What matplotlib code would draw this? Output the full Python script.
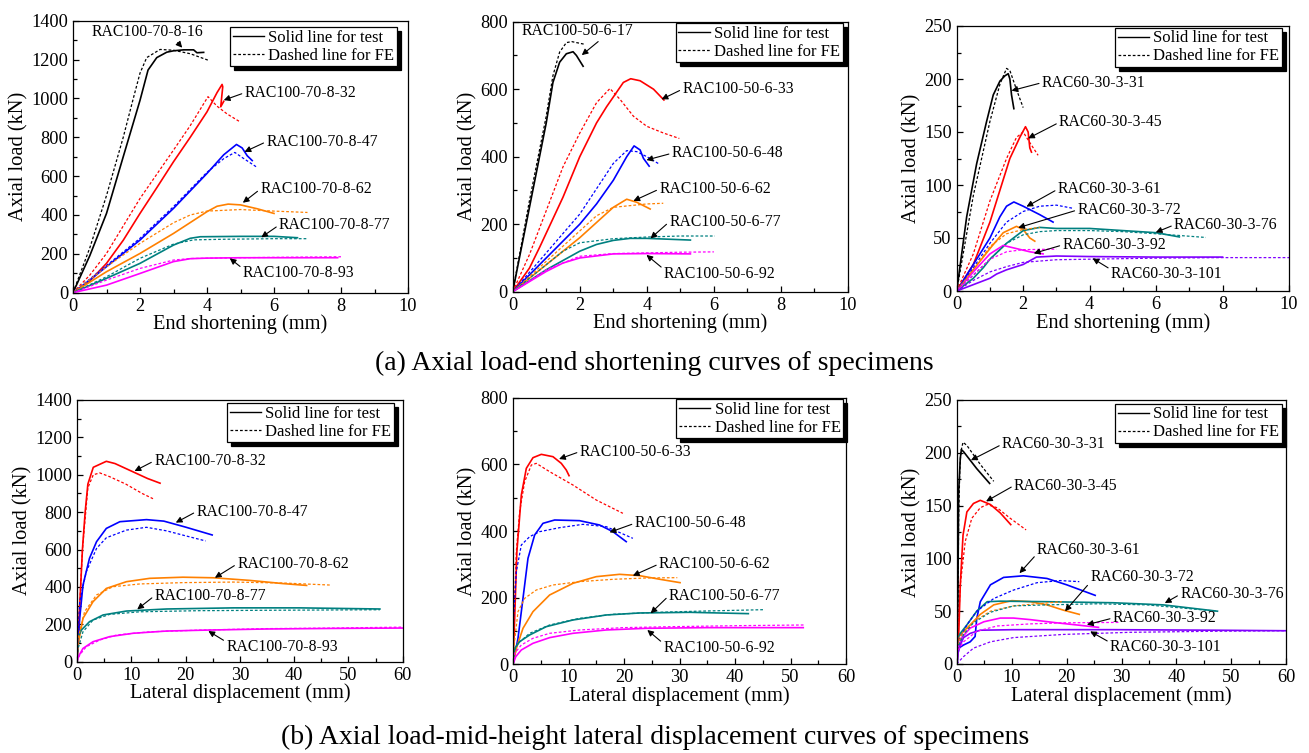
import matplotlib
matplotlib.use("Agg")
import matplotlib.pyplot as plt
from matplotlib.lines import Line2D
from matplotlib.ticker import MultipleLocator

plt.rcParams['font.family'] = ['Liberation Serif', 'DejaVu Serif']
plt.rcParams['mathtext.fontset'] = 'stix'

# ---------------------------------------------------------------- data
# (a) axial load - end shortening
A1_TEST = {
    "RAC100-70-8-16": ([0, 0.5, 1.0, 1.5, 2.0, 2.24, 2.5, 2.8, 3.0, 3.3, 3.6, 3.7, 3.9],
                       [0, 190, 408, 700, 990, 1146, 1210, 1238, 1245, 1250, 1250, 1235, 1237]),
    "RAC100-70-8-32": ([0, 0.5, 1, 1.5, 2, 2.5, 3, 3.5, 4, 4.3, 4.45, 4.47, 4.41, 4.5],
                       [0, 60, 151, 270, 408, 540, 674, 800, 931, 1030, 1072, 1060, 957, 985]),
    "RAC100-70-8-47": ([0, 0.5, 1, 2, 3, 4, 4.5, 4.88, 5.05, 5.2, 5.35],
                       [0, 65, 134, 271, 434, 614, 710, 763, 745, 705, 680]),
    "RAC100-70-8-62": ([0, 1, 2, 3, 4, 4.3, 4.63, 5.0, 5.5, 6.0],
                       [0, 108, 202, 305, 417, 445, 456, 452, 432, 408]),
    "RAC100-70-8-77": ([0, 1, 2, 3, 3.5, 3.8, 5, 6, 6.7],
                       [0, 74, 151, 245, 280, 288, 290, 290, 283]),
    "RAC100-70-8-93": ([0, 1, 2, 3, 3.5, 4, 5, 6, 7, 7.9],
                       [0, 39, 99, 160, 175, 178, 180, 180, 180, 180]),
}
A1_FE = {
    "RAC100-70-8-16": ([0, 0.5, 1, 1.5, 1.8, 2.0, 2.2, 2.6, 3.0, 3.5, 4.03],
                       [0, 230, 500, 800, 1000, 1130, 1210, 1252, 1248, 1230, 1197]),
    "RAC100-70-8-32": ([0, 0.5, 1, 2, 3, 3.5, 4.03, 4.3, 4.6, 4.98],
                       [0, 90, 202, 485, 734, 860, 1009, 960, 920, 880]),
    "RAC100-70-8-47": ([0, 1, 2, 3, 4, 4.5, 4.83, 5.1, 5.47],
                       [0, 140, 280, 443, 620, 690, 722, 690, 648]),
    "RAC100-70-8-62": ([0, 1, 2, 3, 3.5, 4, 5, 6, 7],
                       [0, 134, 254, 360, 400, 420, 428, 420, 413]),
    "RAC100-70-8-77": ([0, 1, 2, 3, 3.6, 4.5, 6, 7],
                       [0, 82, 177, 250, 272, 275, 278, 278]),
    "RAC100-70-8-93": ([0, 1, 2, 3, 3.5, 5, 6, 8],
                       [0, 65, 125, 168, 176, 180, 182, 185]),
}

A2_TEST = {
    "RAC100-50-6-17": ([0, 0.5, 1, 1.2, 1.4, 1.6, 1.8, 1.9, 2.1],
                       [0, 250, 500, 620, 680, 705, 711, 700, 668]),
    "RAC100-50-6-33": ([0, 0.5, 0.81, 1.5, 2, 2.5, 2.8, 3.3, 3.52, 3.8, 4.2, 4.51],
                       [0, 70, 133, 280, 400, 500, 548, 620, 631, 625, 600, 568]),
    "RAC100-50-6-48": ([0, 1, 2, 2.5, 3, 3.4, 3.62, 3.8, 3.9, 4.07],
                       [0, 100, 200, 260, 330, 400, 432, 420, 395, 372]),
    "RAC100-50-6-62": ([0, 1, 2, 2.5, 3, 3.4, 3.7, 4.1],
                       [0, 80, 160, 205, 250, 274, 265, 245]),
    "RAC100-50-6-77": ([0, 1, 2, 2.5, 3, 3.5, 4, 5.3],
                       [0, 65, 120, 140, 152, 158, 158, 153]),
    "RAC100-50-6-92": ([0, 1, 1.5, 2, 3, 4, 5.3],
                       [0, 60, 85, 100, 112, 113, 112]),
}
A2_FE = {
    "RAC100-50-6-17": ([0, 0.5, 1, 1.2, 1.4, 1.6, 1.76, 2.15],
                       [0, 270, 520, 640, 710, 738, 741, 733]),
    "RAC100-50-6-33": ([0, 0.5, 1, 1.5, 2, 2.5, 2.9, 3.2, 3.6, 4.0, 4.5, 4.97],
                       [0, 110, 240, 370, 470, 560, 602, 570, 520, 490, 470, 454]),
    "RAC100-50-6-48": ([0, 1, 2, 2.6, 3, 3.4, 3.7, 4.0, 4.34],
                       [0, 115, 230, 320, 380, 418, 415, 400, 380]),
    "RAC100-50-6-62": ([0, 1, 2, 2.5, 3, 4, 4.49],
                       [0, 90, 180, 225, 250, 260, 262]),
    "RAC100-50-6-77": ([0, 1, 1.5, 2, 3, 4, 5, 6.03],
                       [0, 80, 120, 145, 157, 162, 165, 165]),
    "RAC100-50-6-92": ([0, 1, 2, 3, 4, 5, 6],
                       [0, 65, 105, 113, 115, 117, 118]),
}

A3_TEST = {
    "RAC60-30-3-31": ([0, 0.3, 0.6, 0.9, 1.1, 1.3, 1.45, 1.55, 1.6, 1.65, 1.72],
                      [0, 70, 120, 160, 185, 198, 203, 205, 200, 185, 172]),
    "RAC60-30-3-45": ([0, 0.5, 1, 1.3, 1.6, 1.9, 2.07, 2.15, 2.2, 2.25],
                      [0, 25, 65, 95, 125, 145, 155, 150, 135, 131]),
    "RAC60-30-3-61": ([0, 0.5, 1, 1.3, 1.5, 1.72, 2, 2.5, 2.9],
                      [0, 25, 50, 70, 80, 84, 80, 72, 65]),
    "RAC60-30-3-72": ([0, 0.5, 1, 1.4, 1.8, 2.0, 2.2, 2.35],
                      [0, 20, 40, 55, 61, 58, 50, 47]),
    "RAC60-30-3-76": ([0, 0.5, 0.8, 1.0, 1.5, 2, 2.5, 3, 4, 5, 6, 6.7],
                      [0, 12, 22, 30, 45, 57, 60, 59, 59, 57, 55, 51]),
    "RAC60-30-3-92": ([0, 0.5, 1, 1.4, 1.8, 2.2, 2.6],
                      [0, 18, 35, 43, 40, 37, 35]),
    "RAC60-30-3-101": ([0, 0.5, 1, 1.2, 1.5, 2, 2.4, 3, 4, 6, 8],
                       [0, 6, 12, 16, 20, 25, 32, 33, 32.5, 32, 32]),
}
A3_FE = {
    "RAC60-30-3-31": ([0, 0.5, 1.0, 1.3, 1.5, 1.6, 1.8, 2.0],
                      [0, 90, 160, 195, 210, 208, 190, 173]),
    "RAC60-30-3-45": ([0, 0.5, 1, 1.5, 1.8, 2.0, 2.2, 2.45],
                      [0, 35, 85, 125, 145, 150, 140, 128]),
    "RAC60-30-3-61": ([0, 0.5, 1, 1.5, 2, 2.5, 3, 3.5],
                      [0, 22, 45, 65, 75, 80, 81, 78]),
    "RAC60-30-3-72": ([0, 0.5, 1, 1.5, 2, 2.5],
                      [0, 20, 42, 54, 58, 60]),
    "RAC60-30-3-76": ([0, 0.5, 1, 1.5, 2, 2.5, 3, 4, 5, 6, 7.5],
                      [0, 15, 30, 45, 53, 56, 57, 57, 56, 54, 50.5]),
    "RAC60-30-3-92": ([0, 0.5, 1, 1.5, 2, 3],
                      [0, 15, 30, 37, 39, 39.5]),
    "RAC60-30-3-101": ([0, 0.5, 1, 1.5, 2, 3, 4, 6, 8, 10],
                       [0, 10, 18, 23, 27, 29.5, 30, 31, 31.5, 31.5]),
}

# (b) axial load - mid-height lateral displacement
B1_TEST = {
    "RAC100-70-8-32": ([0, 0.5, 1, 1.5, 2, 3, 5.4, 7, 10, 13, 15.3],
                       [0, 300, 600, 800, 950, 1040, 1072, 1060, 1020, 980, 955]),
    "RAC100-70-8-47": ([0, 0.5, 1.1, 2.3, 3.6, 5.4, 7.9, 12.8, 16, 20, 24.9],
                       [0, 232, 410, 553, 642, 713, 749, 760, 752, 720, 678]),
    "RAC100-70-8-62": ([0, 0.2, 1.1, 2.95, 5.4, 9.1, 13.4, 19.5, 25.1, 31.8, 37.9, 42.3],
                       [0, 89, 232, 321, 392, 428, 446, 452, 449, 435, 418, 408]),
    "RAC100-70-8-77": ([0, 0.06, 0.8, 2.3, 4.8, 9.1, 16.5, 28.8, 41, 55.8],
                       [0, 125, 169, 214, 250, 271, 282, 288, 288, 282]),
    "RAC100-70-8-93": ([0, 0.25, 1.1, 2.95, 6, 10.3, 16.5, 23.8, 34.9, 47.2, 60],
                       [0, 27, 71, 107, 134, 152, 164, 169, 175, 178, 180]),
}
B1_FE = {
    "RAC100-70-8-32": ([0, 0.5, 1, 2, 3, 4.2, 6, 9, 12, 14],
                       [0, 300, 600, 930, 1000, 1010, 990, 950, 900, 872]),
    "RAC100-70-8-47": ([0, 0.5, 1.7, 3.6, 5.4, 9.1, 12.8, 16.5, 20.2, 23.7],
                       [0, 321, 481, 606, 663, 704, 719, 700, 672, 646]),
    "RAC100-70-8-62": ([0, 0.2, 1.4, 3.6, 6.6, 11.6, 19.5, 28.8, 37.9, 46.7],
                       [0, 125, 268, 357, 401, 416, 423, 426, 421, 410]),
    "RAC100-70-8-77": ([0, 0.2, 1.1, 2.95, 6, 11.6, 22.6, 34.9, 55.8],
                       [0, 71, 160, 223, 253, 267, 273, 275, 278]),
    "RAC100-70-8-93": ([0, 0.5, 1.7, 4.2, 7.3, 13.4, 22.6, 34.9, 47.2, 60],
                       [0, 36, 80, 116, 143, 160, 169, 177, 180, 185]),
}

B2_TEST = {
    "RAC100-50-6-33": ([0, 0.3, 0.7, 1.5, 2.4, 3.6, 5.1, 7.2, 8.7, 9.6, 10.1],
                       [0, 138, 338, 508, 588, 620, 630, 623, 603, 583, 566]),
    "RAC100-50-6-48": ([0, 0.9, 1.8, 2.7, 3.9, 5.4, 7.5, 12, 15.6, 18, 20.4],
                       [0, 78, 198, 318, 388, 423, 433, 431, 418, 398, 368]),
    "RAC100-50-6-62": ([0, 0.6, 1.8, 3.6, 6.6, 10.8, 15, 19.2, 22.8, 26.5, 30.1],
                       [0, 48, 108, 158, 208, 243, 263, 270, 266, 255, 245]),
    "RAC100-50-6-77": ([0, 0.3, 1.2, 3, 6, 10.8, 16.8, 22.8, 31.9, 42.4],
                       [0, 48, 68, 88, 113, 133, 148, 154, 156, 152]),
    "RAC100-50-6-92": ([0, 0.5, 1.5, 3.6, 6.6, 10.8, 16.8, 24, 34.9, 52.3],
                       [0, 23, 43, 63, 80, 93, 103, 108, 110, 110]),
}
B2_FE = {
    "RAC100-50-6-33": ([0, 0.2, 0.6, 1.2, 2.1, 3.3, 4.2, 6.6, 10.8, 15, 19.8],
                       [0, 138, 338, 458, 548, 598, 603, 578, 538, 493, 453]),
    "RAC100-50-6-48": ([0, 0.1, 0.6, 1.5, 3, 4.8, 8.4, 12.6, 16.8, 21.6],
                       [0, 138, 278, 358, 383, 398, 410, 420, 413, 378]),
    "RAC100-50-6-62": ([0, 0.2, 0.9, 2.1, 4.2, 7.2, 12, 18, 24, 29.6],
                       [0, 58, 158, 198, 223, 238, 248, 255, 259, 260]),
    "RAC100-50-6-77": ([0, 0.1, 0.9, 3, 6.6, 12, 18, 25.9, 34.9, 45.4],
                       [0, 38, 63, 93, 118, 138, 150, 156, 160, 164]),
    "RAC100-50-6-92": ([0, 0.3, 1.5, 3.6, 6.6, 12, 19.8, 28.9, 40.9, 52.6],
                       [0, 33, 58, 78, 93, 103, 110, 113, 116, 118]),
}

B3_TEST = {
    "RAC60-30-3-31": ([0, 0.12, 0.18, 0.3, 0.5, 0.6, 0.8, 1.2, 3.6, 5.95],
                      [0, 37, 75, 163, 184, 195, 203, 201, 185, 171]),
    "RAC60-30-3-45": ([0, 0.3, 0.6, 1.1, 1.8, 3, 4.25, 6.1, 7.9, 9.8],
                      [0, 25, 75, 122, 144, 152, 155, 151, 143, 132]),
    "RAC60-30-3-61": ([0, 0.3, 1.2, 2.4, 3.3, 3.6, 4.25, 6.1, 8.5, 12.1, 16.4, 20, 25.2],
                      [0, 15, 18, 21, 26, 43, 59, 75, 82, 83.5, 81, 75, 65]),
    "RAC60-30-3-72": ([0, 0.18, 1.2, 2.4, 4.25, 6.7, 10, 13.4, 16.4, 19.4, 22.3],
                      [0, 25, 31, 37, 47, 56, 60, 59, 56, 51, 47]),
    "RAC60-30-3-76": ([0, 0.12, 0.6, 1.8, 3.6, 5.5, 7.9, 16.4, 28.5, 37.6, 47.5],
                      [0, 25, 29, 37, 50, 59, 59.5, 59, 58, 56, 50]),
    "RAC60-30-3-92": ([0, 0.18, 0.9, 2.4, 4.9, 7.9, 10.3, 13.4, 18.2, 22.5, 25.8],
                      [0, 15, 25, 34, 40, 43.5, 43.5, 42, 39, 36.6, 34.7]),
    "RAC60-30-3-101": ([0, 0.1, 0.6, 1.2, 2.4, 4.25, 10.3, 28.5, 46.8, 60],
                       [0, 9, 18, 25, 29, 32, 32.5, 32.5, 32, 31.5]),
}
B3_FE = {
    "RAC60-30-3-31": ([0, 0.18, 0.3, 0.5, 0.7, 1.1, 1.8, 4.25, 6.7],
                      [0, 59, 138, 182, 201, 210, 207, 189, 173]),
    "RAC60-30-3-45": ([0, 0.1, 0.6, 1.5, 2.7, 4.25, 5.5, 7.3, 9.7, 12.6],
                      [0, 18, 75, 116, 138, 148, 151, 148, 138, 127]),
    "RAC60-30-3-61": ([0, 0.1, 0.6, 1.8, 3.6, 6.7, 10.3, 14.6, 18.8, 22.3],
                      [0, 15, 25, 37, 50, 62, 70, 77, 79, 78]),
    "RAC60-30-3-72": ([0, 0.1, 0.9, 3, 6.1, 10.3, 14.6, 19.1],
                      [0, 18, 28, 40, 50, 55, 57, 59]),
    "RAC60-30-3-76": ([0, 0.1, 1.2, 3, 6.1, 10.3, 16.4, 25.5, 34.6, 47.5],
                      [0, 15, 28, 39, 49, 55, 56, 57, 56, 50]),
    "RAC60-30-3-92": ([0, 0.1, 1.2, 3.6, 7.3, 13.4, 19.4, 29.7],
                      [0, 12, 21, 31, 36, 38, 39, 39.4]),
    "RAC60-30-3-101": ([0, 0.1, 1.2, 3, 6.1, 10.3, 19.4, 31.6, 46.8, 60],
                       [0, 1, 7, 15, 21, 25, 28, 30, 31, 31.5]),
}

XLABEL_A = "End shortening (mm)"
XLABEL_B = "Lateral displacement (mm)"
YLABEL = "Axial load (kN)"
LEGEND_LABELS = ["Solid line for test", "Dashed line for FE"]
CAPTION_A = "(a) Axial load-end shortening curves of specimens"
CAPTION_B = "(b) Axial load-mid-height lateral displacement curves of specimens"

# ---------------------------------------------------------------- styles
COLORS = {"16": "black", "17": "black", "31": "black",
          "32": "#ff0000", "33": "#ff0000", "45": "#ff0000",
          "47": "#0000ff", "48": "#0000ff", "61": "#0000ff",
          "62": "#ff8000", "72": "#ff8000",
          "77": "#008080", "76": "#008080",
          "93": "#ff00ff", "92": "#ff00ff",
          "101": "#8000ff"}

W, H = 1309, 753
fig = plt.figure(figsize=(W / 100, H / 100), dpi=100)


def add_axes(l, r, t, b):
    return fig.add_axes([l / W, 1 - b / H, (r - l) / W, (b - t) / H])


# panel spec: (pixel box, data, xlim, ylim, xmaj, ymaj, xlabel, legend box px (right, top), annotations)
PANELS = [
    ((73, 408, 20.7, 292.7), A1_TEST, A1_FE, 10, 1400, 2, 200, XLABEL_A, (397, 27),
     [((3.26, 1261), (0.55, 1343), (0.75, 0.0)),
      ((4.5, 991), (5.12, 1029), (0, 0.5)),
      ((5.12, 725), (5.77, 777), (0, 0.5)),
      ((5.07, 463), (5.59, 533), (0, 0.5)),
      ((5.62, 285), (6.15, 348), (0, 0.5)),
      ((4.68, 177), (5.07, 99), (0, 0.8))]),
    ((512.7, 848, 21.7, 291.7), A2_TEST, A2_FE, 10, 800, 2, 200, XLABEL_A, (842.7, 23.3),
     [((2.06, 701), (0.25, 773), (0.72, 0.0)),
      ((4.44, 570), (5.06, 600), (0, 0.5)),
      ((3.99, 390), (4.74, 410), (0, 0.5)),
      ((3.6, 269), (4.37, 304), (0, 0.5)),
      ((4.11, 158), (4.67, 207), (0, 0.5)),
      ((3.99, 109), (4.51, 52), (0, 0.8))]),
    ((956.7, 1289, 26, 291), A3_TEST, A3_FE, 10, 250, 2, 50, XLABEL_A, (1282, 28),
     [((1.65, 189), (2.56, 196.5), (0, 0.5)),
      ((2.15, 144), (3.08, 159), (0, 0.5)),
      ((2.1, 79.6), (3.04, 96), (0, 0.5)),
      ((1.85, 59.7), (3.63, 76.4), (0, 0.5)),
      ((5.99, 55.3), (6.54, 62.3), (0, 0.5)),
      ((2.32, 35.5), (3.18, 43.4), (0, 0.5)),
      ((4.09, 30.8), (4.64, 15.7), (0, 0.8))]),
    ((77, 402.7, 400, 661.7), B1_TEST, B1_FE, 60, 1400, 10, 200, XLABEL_B, (394, 403),
     [((10.6, 1020), (14.2, 1074), (0, 0.5)),
      ((18.2, 744), (22.0, 803), (0, 0.5)),
      ((25.4, 449), (29.5, 523), (0, 0.5)),
      ((11.1, 280), (14.3, 353), (0, 0.5)),
      ((24.2, 164), (27.5, 80), (0, 0.8))]),
    ((513, 846, 397.7, 664.3), B2_TEST, B2_FE, 60, 800, 10, 200, XLABEL_B, (843, 399),
     [((8.3, 616), (12.0, 638), (0, 0.5)),
      ((17.4, 396), (21.9, 423), (0, 0.5)),
      ((21.6, 266), (26.3, 301), (0, 0.5)),
      ((24.8, 153), (28.1, 206), (0, 0.5)),
      ((24.2, 103), (27.1, 48), (0, 0.8))]),
    ((957, 1286, 400, 664), B3_TEST, B3_FE, 60, 250, 10, 50, XLABEL_B, (1282, 404),
     [((2.55, 193), (8.2, 208), (0, 0.5)),
      ((5.3, 154), (10.4, 169), (0, 0.5)),
      ((11.4, 86), (14.6, 107.5), (0, 0.3)),
      ((19.7, 50), (24.3, 82), (0, 0.2)),
      ((37.9, 57.7), (40.7, 66), (0, 0.5)),
      ((23.7, 37.2), (28.4, 43.5), (0, 0.5)),
      ((24.3, 30.9), (27.9, 15.8), (0, 0.8))]),
]

FE_DASH = (0, (2.2, 1.6))

for box, test, fe, xmax, ymax, xmaj, ymaj, xlabel, legpos, annots in PANELS:
    l, r, t, b = box
    ax = add_axes(l, r, t, b)
    for name, (xs, ys) in test.items():
        c = COLORS[name.split("-")[-1]]
        ax.plot(xs, ys, color=c, lw=1.2, solid_joinstyle='round')
    for name, (xs, ys) in fe.items():
        c = COLORS[name.split("-")[-1]]
        ax.plot(xs, ys, color=c, lw=0.9, linestyle=FE_DASH)
    ax.set_xlim(0, xmax)
    ax.set_ylim(0, ymax)
    ax.xaxis.set_major_locator(MultipleLocator(xmaj))
    ax.xaxis.set_minor_locator(MultipleLocator(xmaj / 2))
    ax.yaxis.set_major_locator(MultipleLocator(ymaj))
    ax.yaxis.set_minor_locator(MultipleLocator(ymaj / 2))
    ax.tick_params(which='both', direction='in', top=False, right=False,
                   labelsize=13.2, width=0.9, colors='black')
    ax.tick_params(which='major', length=4.5)
    ax.tick_params(which='minor', length=3)
    for sp in ax.spines.values():
        sp.set_linewidth(0.9)
    ax.set_xlabel(xlabel, fontsize=14.7, labelpad=0)
    ax.set_ylabel(YLABEL, fontsize=14.8, labelpad=2)

    names = list(test.keys())
    for name, (tip, txt, rel) in zip(names, annots):
        ax.annotate(name, xy=tip, xytext=txt, fontsize=11.3, ha='left', va='center',
                    arrowprops=dict(arrowstyle='-|>', color='black', lw=0.8,
                                    mutation_scale=9, shrinkA=0, shrinkB=0,
                                    relpos=rel))

    handles = [Line2D([], [], color='black', lw=1.0),
               Line2D([], [], color='black', lw=0.9, linestyle=FE_DASH)]
    rx = (legpos[0] - l) / (r - l)
    ty = (b - legpos[1]) / (b - t)
    leg = ax.legend(handles, LEGEND_LABELS, loc='upper right', bbox_to_anchor=(rx, ty),
                    borderaxespad=0, fontsize=12, frameon=True, fancybox=False,
                    edgecolor='black', framealpha=1, handlelength=1.9,
                    handletextpad=0.25, borderpad=0.15, labelspacing=0.12,
                    shadow={'ox': 3, 'oy': -3, 'color': 'black', 'alpha': 1})
    leg.get_frame().set_linewidth(0.9)

fig.text(654 / W, 1 - 363 / H, CAPTION_A, fontsize=20, ha='center', va='center')
fig.text(655 / W, 1 - 737 / H, CAPTION_B, fontsize=20, ha='center', va='center')

fig.savefig("out.png", dpi=100)
